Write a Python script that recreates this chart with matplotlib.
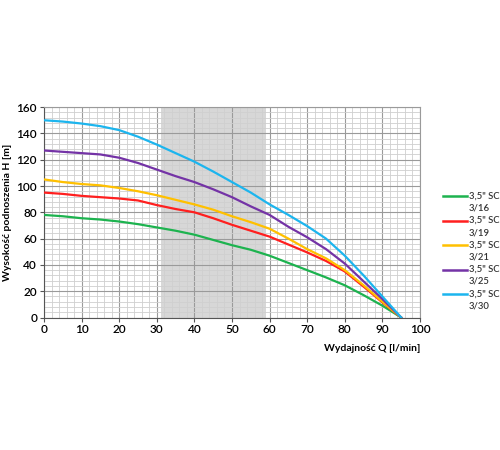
import numpy as np
import matplotlib
matplotlib.use("Agg")
import matplotlib.pyplot as plt
from matplotlib.lines import Line2D
from matplotlib.ticker import MultipleLocator

plt.rcParams['font.family'] = ['Lato', 'DejaVu Sans']

# flow Q [l/min]
q = [0, 5, 10, 15, 20, 25, 30, 35, 40, 45, 50, 55, 60, 65, 70, 75, 80, 85, 90, 95]

# head H [m] per pump
h_316 = [78, 77, 75.5, 74.5, 73, 71, 68.5, 66, 63, 59, 55, 51.5, 47, 41.5, 36, 30.5, 24.5, 17, 9, 0]
h_319 = [95, 94, 92.5, 91.5, 90.5, 89, 85.5, 82.5, 80, 75.5, 70.5, 66, 61.5, 55.5, 49.5, 43, 35, 23.5, 11.5, 0]
h_321 = [105, 103, 101.5, 100.5, 98.5, 96, 93, 89.5, 86, 82, 77, 72.5, 67.5, 60, 52, 45, 36, 24.5, 12, 0]
h_325 = [127, 126, 125, 124, 121.5, 117.5, 112.5, 107.5, 103, 97.5, 91.5, 84.5, 78, 69, 61, 52, 41, 27.5, 14, 0]
h_330 = [150, 149, 147.5, 145.5, 142.5, 137.5, 131.5, 125, 118.5, 111, 103, 95, 86, 78, 69.5, 60, 47, 32, 16, 0]

models = ['3/16', '3/19', '3/21', '3/25', '3/30']
prefix = '3,5" SC'
colors = ['#1db34f', '#ff1f1f', '#ffc000', '#7433a6', '#1cb5ee']
band = (31, 59)

fig = plt.figure(figsize=(5, 4.5), dpi=100)
ax = fig.add_axes([0.088, 0.2944, 0.752, 0.4676])

# recommended working range
ax.axvspan(band[0], band[1], color='#d7d7d7', zorder=0, lw=0)

for h, c in zip([h_316, h_319, h_321, h_325, h_330], colors):
    ax.plot(q, h, color=c, lw=1.6, zorder=3)

ax.set_xlim(0, 100)
ax.set_ylim(0, 160)
ax.xaxis.set_major_locator(MultipleLocator(10))
ax.xaxis.set_minor_locator(MultipleLocator(2))
ax.yaxis.set_major_locator(MultipleLocator(20))
ax.yaxis.set_minor_locator(MultipleLocator(4))
ax.set_axisbelow(True)
ax.grid(which='major', color='#9a9a9a', lw=0.8, zorder=1)
ax.grid(which='minor', color='#cfcfcf', lw=0.6, zorder=1)
ax.tick_params(which='major', length=3, width=0.8, color='#555555', labelsize=8.5, pad=2)
ax.tick_params(which='minor', length=0)
for lbl in ax.get_xticklabels() + ax.get_yticklabels():
    lbl.set_fontweight('semibold')

for s in ['top', 'right']:
    ax.spines[s].set_color('#9a9a9a')
    ax.spines[s].set_linewidth(0.8)
for s in ['left', 'bottom']:
    ax.spines[s].set_color('#555555')
    ax.spines[s].set_linewidth(0.8)

ax.set_ylabel('Wysokość podnoszenia H [m]', fontsize=7.5, fontweight='bold', labelpad=3)
ax.set_xlabel('Wydajność Q [l/min]', fontsize=7.5, fontweight='bold', loc='right', labelpad=6)

# legend: handle aligned with the first text line
for i, (c, m) in enumerate(zip(colors, models)):
    y = 1 - (196 + 24.5 * i) / 450
    fig.add_artist(Line2D([443 / 500, 467 / 500], [y, y], color=c, lw=1.8))
    fig.text(469 / 500, y, prefix, fontsize=6.8, fontweight='semibold', color='#333333',
             va='center', ha='left')
    fig.text(469 / 500, y - 12 / 450, m, fontsize=6.8, fontweight='semibold', color='#333333',
             va='center', ha='left')

fig.savefig('out.png', dpi=100, facecolor='white')
